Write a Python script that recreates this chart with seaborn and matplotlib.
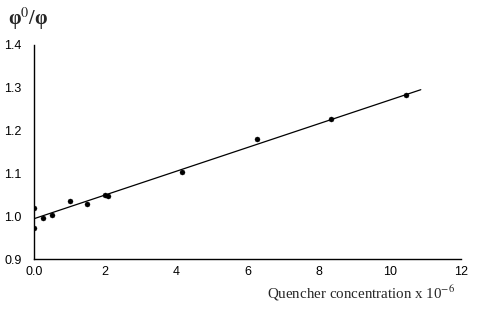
import matplotlib
matplotlib.use("Agg")
import matplotlib.pyplot as plt
import seaborn as sns
import pandas as pd

# Data
quencher = [0.0, 0.0, 0.25, 0.50, 1.0, 1.5, 2.0, 2.07, 4.16, 6.27, 8.34, 10.45]
ratio = [1.020, 0.973, 0.996, 1.002, 1.036, 1.029, 1.050, 1.047, 1.104, 1.179, 1.226, 1.283]

fit_x = [0.0, 10.87]
fit_y = [0.994, 1.295]

x_ticks = [0, 2, 4, 6, 8, 10, 12]
x_tick_labels = ["0.0", "2", "4", "6", "8", "10", "12"]
y_ticks = [0.9, 1.0, 1.1, 1.2, 1.3, 1.4]
y_tick_labels = ["0.9", "1.0", "1.1", "1.2", "1.3", "1.4"]

sns.set_style("white")
plt.rcParams["font.family"] = ["Liberation Sans", "DejaVu Sans"]
plt.rcParams["mathtext.fontset"] = "stix"

fig = plt.figure(figsize=(4.9, 3.14), dpi=100)
ax = fig.add_axes([34 / 490, 55 / 314, 427 / 490, 214.3 / 314])

df = pd.DataFrame({"x": quencher, "y": ratio})
fit = pd.DataFrame({"x": fit_x, "y": fit_y})

sns.lineplot(data=fit, x="x", y="y", ax=ax, color="black", linewidth=0.9)
sns.scatterplot(data=df, x="x", y="y", ax=ax, color="black", s=13,
                edgecolor="black", linewidth=0.3, zorder=3)

ax.set_xlim(0, 12)
ax.set_ylim(0.9, 1.4)
ax.set_xticks(x_ticks)
ax.set_xticklabels(x_tick_labels)
ax.set_yticks(y_ticks)
ax.set_yticklabels(y_tick_labels)
ax.tick_params(axis="both", direction="out", length=3, width=0.9,
               labelsize=9, colors="black", pad=2)
ax.tick_params(axis="y", pad=6)

for side in ["top", "right"]:
    ax.spines[side].set_visible(False)
for side in ["left", "bottom"]:
    ax.spines[side].set_color("black")
    ax.spines[side].set_linewidth(1.0)

ax.set_xlabel("")
ax.set_ylabel("")

fig.text(455 / 490, 1 - 293 / 314, r"Quencher concentration x 10$^{-6}$",
         ha="right", va="center", fontsize=10.8,
         family=["Liberation Serif", "DejaVu Serif"])
fig.text(8 / 490, 1 - 19 / 314, r"φ$^{0}$/φ", ha="left", va="center",
         fontsize=14.5, fontweight="bold",
         family=["Liberation Serif", "DejaVu Serif"])

fig.savefig("out.png", dpi=100)
